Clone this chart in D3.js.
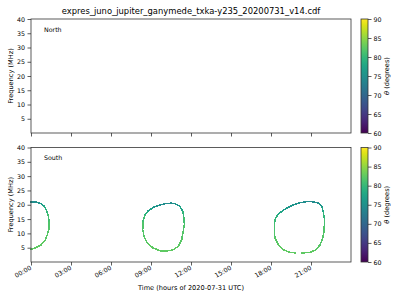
<!DOCTYPE html>
<html>
<head>
<meta charset="utf-8">
<script src="https://cdn.jsdelivr.net/npm/d3@7"></script>
<style>
  body { margin: 0; background: #fff; }
  text { font-family: "DejaVu Sans", sans-serif; fill: #000; }
</style>
</head>
<body>
<div id="chart"></div>
<script>
const width = 400;
const height = 300;

// Tick values
const hourTicks = [0, 3, 6, 9, 12, 15, 18, 21];
const hourLabels = ['00:00', '03:00', '06:00', '09:00', '12:00', '15:00', '18:00', '21:00'];
const freqTicks = [5, 10, 15, 20, 25, 30, 35, 40];
const thetaTicks = [60, 65, 70, 75, 80, 85, 90];

// South hemisphere emission loops: hour of day, frequency (MHz), theta (deg)
const loop1Hours = [0, 0.4, 0.73, 0.98, 1.15, 1.28, 1.37, 1.35, 1.22, 1.03, 0.73, 0.4, 0];
const loop1Freq = [21.0, 20.9, 20.46, 19.5, 18.1, 16.4, 14.05, 11.7, 9.4, 7.3, 5.9, 5.1, 4.4];
const loop1Theta = [74.5, 74.8, 75.5, 77.5, 79.5, 80.5, 81.5, 82, 82, 82.5, 82.5, 82.5, 82.5];

const loop2Hours = [10.18, 10.55, 10.8, 11.18, 11.38, 11.48, 11.5, 11.42, 11.3, 11.05, 10.67, 10.18,
  9.68, 9.17, 8.72, 8.48, 8.38, 8.4, 8.55, 8.8, 9.17, 9.68, 10.18];
const loop2Freq = [20.46, 20.56, 20.32, 19.41, 17.67, 15.34, 13.0, 10.7, 7.77, 5.47, 4.29, 3.83,
  3.94, 4.88, 6.62, 8.96, 11.26, 14.19, 16.49, 17.88, 19.07, 19.97, 20.46];
const loop2Theta = [74.5, 74.5, 75, 76, 79, 80.5, 81.5, 82, 82, 82.5, 82.5, 82.5,
  82.5, 82.5, 82.5, 82, 82, 81.5, 80, 78, 76, 75, 74.5];

const loop3Hours = [20.3, 20.93, 21.38, 21.68, 21.88, 21.98, 22.0, 22.0, 21.92, 21.8, 21.55, 21.17, 20.8,
  20.17, 19.67, 19.18, 18.8, 18.47, 18.3, 18.25, 18.25, 18.3, 18.55, 18.92, 19.43, 19.85];
const loop3Freq = [3.14, 3.38, 4.29, 6.03, 8.37, 10.7, 13.0, 15.34, 17.67, 19.41, 20.56, 21.02, 21.16,
  20.67, 19.97, 18.82, 17.67, 16.28, 14.74, 13.0, 10.7, 8.37, 6.03, 4.29, 3.38, 3.14];
const loop3Theta = [82.5, 82.5, 82.5, 82, 82, 82, 81.5, 80.5, 79, 76.5, 75, 74.5, 74.5,
  75, 75.5, 76, 77, 78.5, 80, 81, 81.5, 82, 82.5, 82.5, 82.5, 82.5];

const panels = [
  { name: 'North', top: 19, bottom: 133, loops: [] },
  { name: 'South', top: 147.5, bottom: 262, loops: [
    [loop1Hours, loop1Freq, loop1Theta],
    [loop2Hours, loop2Freq, loop2Theta],
    [loop3Hours, loop3Freq, loop3Theta]
  ] }
];

const plotLeft = 31;
const plotRight = 351;
const cbLeft = 361;
const cbWidth = 7;
const axisColor = '#333';

const x = d3.scaleLinear().domain([0, 24]).range([plotLeft, plotRight]);
const color = d3.scaleSequential(d3.interpolateViridis).domain([60, 90]);

const svg = d3.select('#chart')
  .append('svg')
  .attr('width', width)
  .attr('height', height);

// Colorbar gradient
const grad = svg.append('defs')
  .append('linearGradient')
  .attr('id', 'viridis')
  .attr('x1', 0).attr('y1', 1)
  .attr('x2', 0).attr('y2', 0);
d3.range(0, 1.0001, 0.05).forEach(function (t) {
  grad.append('stop')
    .attr('offset', t)
    .attr('stop-color', d3.interpolateViridis(t));
});

svg.append('text')
  .attr('x', (plotLeft + plotRight) / 2)
  .attr('y', 14)
  .attr('text-anchor', 'middle')
  .attr('font-size', '8.4px')
  .text('expres_juno_jupiter_ganymede_txka-y235_20200731_v14.cdf');

panels.forEach(function (p, idx) {
  const y = d3.scaleLinear().domain([0, 40]).range([p.bottom, p.top]);
  const g = svg.append('g');

  // emission loops, each segment coloured by theta
  p.loops.forEach(function (loop) {
    const hours = loop[0], freq = loop[1], theta = loop[2];
    for (let i = 0; i < hours.length - 1; i++) {
      g.append('line')
        .attr('x1', x(hours[i]))
        .attr('y1', y(freq[i]))
        .attr('x2', x(hours[i + 1]))
        .attr('y2', y(freq[i + 1]))
        .attr('stroke', color((theta[i] + theta[i + 1]) / 2))
        .attr('stroke-width', 1.5)
        .attr('stroke-linecap', 'square')
        .attr('shape-rendering', 'crispEdges');
    }
  });

  // y axis
  const yAxis = g.append('g')
    .attr('transform', 'translate(' + plotLeft + ',0)')
    .call(d3.axisLeft(y).tickValues(freqTicks).tickSize(3.5).tickPadding(2.5));
  yAxis.select('.domain').remove();
  yAxis.selectAll('line').attr('stroke', axisColor).attr('stroke-width', 0.8);
  yAxis.selectAll('text').attr('font-size', '6.3px').attr('font-family', 'DejaVu Sans');

  // x axis
  const xAxis = g.append('g')
    .attr('transform', 'translate(0,' + p.bottom + ')')
    .call(d3.axisBottom(x).tickValues(hourTicks)
      .tickFormat(function (d, i) { return idx === 1 ? hourLabels[i] : ''; })
      .tickSize(3.5));
  xAxis.select('.domain').remove();
  xAxis.selectAll('line').attr('stroke', axisColor).attr('stroke-width', 0.8);
  xAxis.selectAll('text')
    .attr('font-size', '6.3px')
    .attr('font-family', 'DejaVu Sans')
    .attr('text-anchor', 'end')
    .attr('dy', null)
    .attr('y', 0)
    .attr('transform', 'translate(0.5,7) rotate(-30)');

  // frame
  g.append('rect')
    .attr('x', plotLeft)
    .attr('y', p.top)
    .attr('width', plotRight - plotLeft)
    .attr('height', p.bottom - p.top)
    .attr('fill', 'none')
    .attr('stroke', axisColor)
    .attr('stroke-width', 0.8);

  g.append('text')
    .attr('x', 44)
    .attr('y', p.top + 12.5)
    .attr('font-size', '6.3px')
    .text(p.name);

  g.append('text')
    .attr('transform', 'translate(12.8,' + (p.top + p.bottom) / 2 + ') rotate(-90)')
    .attr('text-anchor', 'middle')
    .attr('font-size', '6.6px')
    .text('Frequency (MHz)');

  // colorbar
  const cy = d3.scaleLinear().domain([60, 90]).range([p.bottom, p.top]);
  g.append('rect')
    .attr('x', cbLeft)
    .attr('y', p.top)
    .attr('width', cbWidth)
    .attr('height', p.bottom - p.top)
    .attr('fill', 'url(#viridis)')
    .attr('stroke', axisColor)
    .attr('stroke-width', 0.8);
  const cAxis = g.append('g')
    .attr('transform', 'translate(' + (cbLeft + cbWidth) + ',0)')
    .call(d3.axisRight(cy).tickValues(thetaTicks).tickSize(3.5).tickPadding(2));
  cAxis.select('.domain').remove();
  cAxis.selectAll('line').attr('stroke', axisColor).attr('stroke-width', 0.8);
  cAxis.selectAll('text').attr('font-size', '6.3px').attr('font-family', 'DejaVu Sans');

  const cl = g.append('text')
    .attr('transform', 'translate(389,' + (p.top + p.bottom) / 2 + ') rotate(-90)')
    .attr('text-anchor', 'middle')
    .attr('font-size', '6.6px');
  cl.append('tspan').attr('font-style', 'italic').text('θ');
  cl.append('tspan').text(' (degrees)');
});

svg.append('text')
  .attr('x', (plotLeft + plotRight) / 2)
  .attr('y', 289.5)
  .attr('text-anchor', 'middle')
  .attr('font-size', '6.6px')
  .text('Time (hours of 2020-07-31 UTC)');
</script>
</body>
</html>
